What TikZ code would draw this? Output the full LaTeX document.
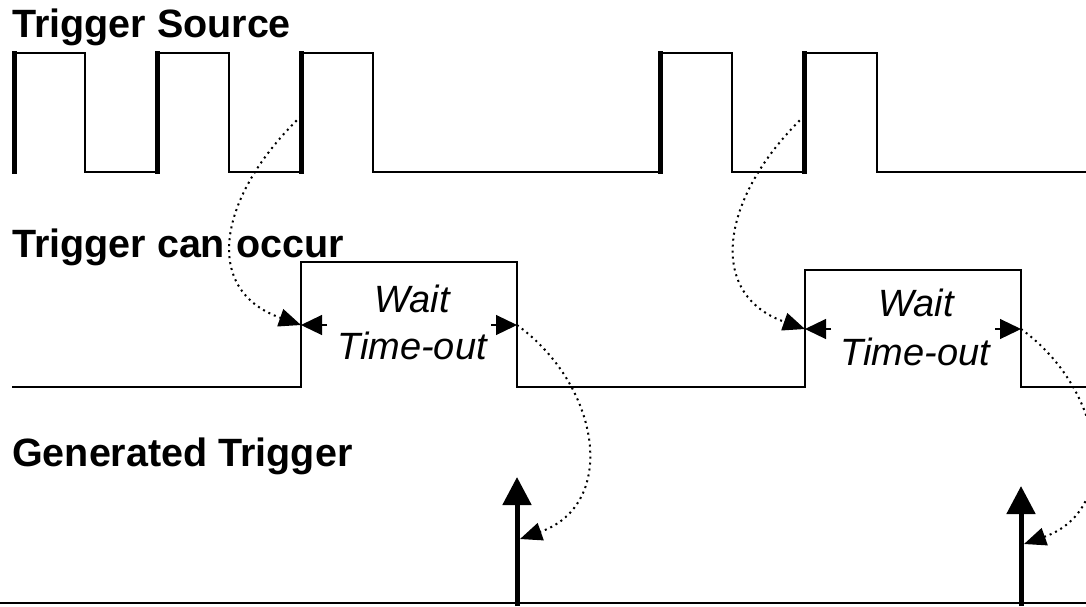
\documentclass[tikz,border=0pt]{standalone}
\usepackage{fontspec}
\setmainfont{Liberation Sans}
\usetikzlibrary{arrows.meta}

\begin{document}
\begin{tikzpicture}[x=1pt,y=-1pt,
  sig/.style={line width=1.6pt},
  edge/.style={line width=5pt},
  head/.style={font=\fontsize{39.5}{46}\selectfont\bfseries,anchor=base west,inner sep=0pt},
  note/.style={font=\fontsize{38}{44}\selectfont\itshape,anchor=base,inner sep=0pt},
  cause/.style={line width=2pt,dash pattern=on 2pt off 4pt,-{Triangle[length=22pt,width=18pt]}},
  limit/.style={line width=1.2pt,-{Triangle[length=21pt,width=20pt]}},
  fire/.style={line width=5pt,-{Triangle[length=28pt,width=28pt]}}]
\clip (0,0) rectangle (1086,606);
% trigger source
\draw[sig] (14,53) -- (85,53) -- (85,172) -- (157,172);
\draw[sig] (157,53) -- (229,53) -- (229,172) -- (301,172);
\draw[sig] (301,53) -- (373,53) -- (373,172) -- (660,172);
\draw[sig] (660,53) -- (732,53) -- (732,172) -- (804,172);
\draw[sig] (804,53) -- (877,53) -- (877,172) -- (1086,172);
\foreach \x/\n in {14/1,157/2,301/3,660/4,804/5}
  \draw[edge] (\x,51) -- (\x,174) coordinate[pos=0.53] (src\n);
% trigger can occur
\draw[sig] (12,387) -- (301,387) -- (301,262) -- (517,262) -- (517,387)
  -- (805,387) -- (805,270) -- (1021,270) -- (1021,387) -- (1086,387);
\coordinate (open1) at (301,325);
\coordinate (close1) at (517,325);
\coordinate (open2) at (805,329);
\coordinate (close2) at (1021,329);
\draw[limit] ([xshift=26pt]open1) -- (open1);
\draw[limit] ([xshift=-26pt]close1) -- (close1);
\draw[limit] ([xshift=26pt]open2) -- (open2);
\draw[limit] ([xshift=-26pt]close2) -- (close2);
% generated trigger
\draw[sig] (0,603) -- (1086,603);
\coordinate (gen1) at (517,477);
\coordinate (gen2) at (1021,486);
\coordinate (fire1) at (520,539);
\coordinate (fire2) at (1024,544);
\draw[fire] (517,606) -- (gen1);
\draw[fire] (1021,606) -- (gen2);
% dotted causes
\draw[cause] (src3) .. controls +(-83,80) and +(-100,-35) .. (open1);
\draw[cause] (src5) .. controls +(-83,80) and +(-100,-35) .. (open2);
\draw[cause] (close1) .. controls +(83,60) and +(99,-35) .. (fire1);
\draw[cause] (close2) .. controls +(83,60) and +(99,-35) .. (fire2);
% labels
\node[head] (lblsrc) at (12,37) {Trigger Source};
\node[head] (lblcan) at (12,257) {Trigger can occur};
\node[head] (lblgen) at (12,466) {Generated Trigger};
\node[note] (wait1) at (412,312) {Wait};
\node[note] (tout1) at (412,359) {Time-out};
\node[note] (wait2) at (916,316) {Wait};
\node[note] (tout2) at (915,365) {Time-out};
\end{tikzpicture}
\end{document}
